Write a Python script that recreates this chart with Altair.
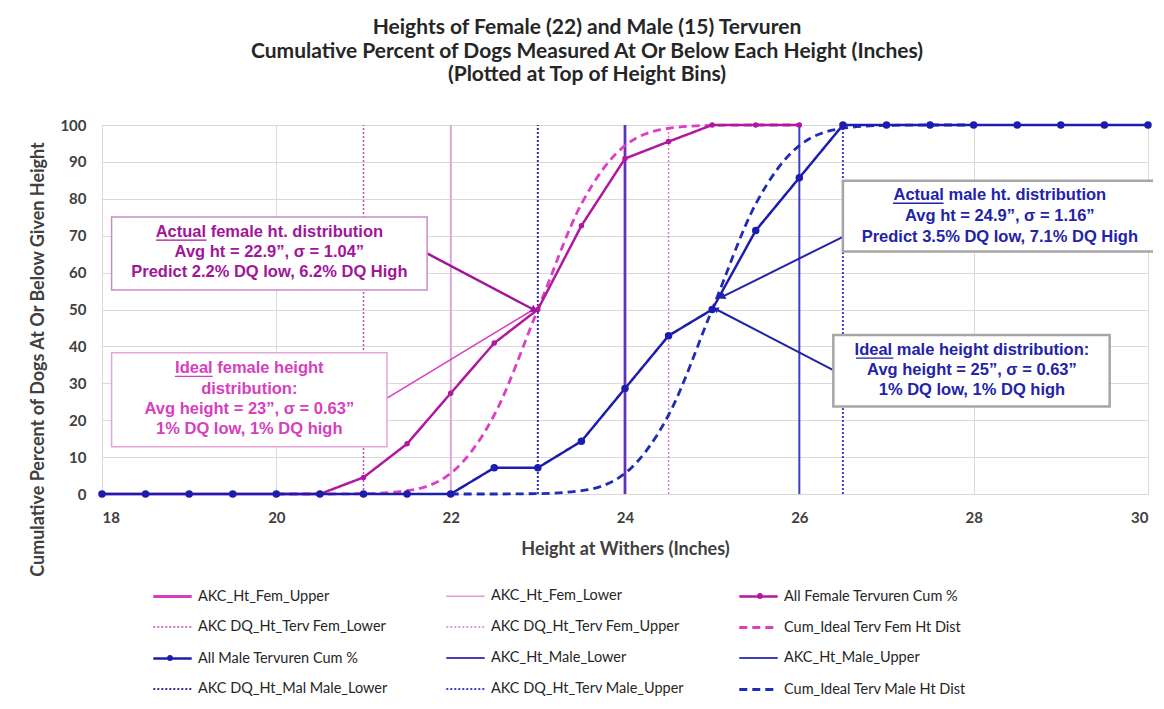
import altair as alt
import pandas as pd

FONT = "Lato"
AFONT = "Liberation Sans"

# Series styles (name -> colour, dash, width)
SERIES = [
    "AKC_Ht_Fem_Upper", "AKC_Ht_Fem_Lower", "All Female Tervuren Cum %",
    "AKC DQ_Ht_Terv Fem_Lower", "AKC DQ_Ht_Terv Fem_Upper", "Cum_Ideal Terv Fem Ht Dist",
    "All Male Tervuren Cum %", "AKC_Ht_Male_Lower", "AKC_Ht_Male_Upper",
    "AKC DQ_Ht_Mal Male_Lower", "AKC DQ_Ht_Terv Male_Upper", "Cum_Ideal Terv Male Ht Dist",
]
COLORS = ["#d43fbf", "#e39ad9", "#b0189f", "#c44bb6", "#e27ad0", "#dc3fc2",
          "#1c1cae", "#4a3db8", "#3f3fbf", "#3030a8", "#4040c8", "#1f2db5"]
DASHES = [[1, 0], [1, 0], [1, 0], [2, 2], [2, 2], [8, 5],
          [1, 0], [1, 0], [1, 0], [2, 2], [2, 2], [8, 5]]
WIDTHS = [3, 1.5, 2.5, 1.5, 1.5, 2.8, 2.5, 2, 2, 2, 2, 2.8]

# legend reading order (laid out column by column, 3 columns x 4 rows)
LEGEND_ORDER = [
    "AKC_Ht_Fem_Upper", "AKC DQ_Ht_Terv Fem_Lower", "All Male Tervuren Cum %", "AKC DQ_Ht_Mal Male_Lower",
    "AKC_Ht_Fem_Lower", "AKC DQ_Ht_Terv Fem_Upper", "AKC_Ht_Male_Lower", "AKC DQ_Ht_Terv Male_Upper",
    "All Female Tervuren Cum %", "Cum_Ideal Terv Fem Ht Dist", "AKC_Ht_Male_Upper", "Cum_Ideal Terv Male Ht Dist",
]

X_TICKS = [18, 20, 22, 24, 26, 28, 30]
Y_TICKS = [0, 10, 20, 30, 40, 50, 60, 70, 80, 90, 100]

# All Female Tervuren Cum %
fem_x = [18, 18.5, 19, 19.5, 20, 20.5, 21, 21.5, 22, 22.5, 23, 23.5, 24, 24.5, 25, 25.5, 26]
fem_cum = [0, 0, 0, 0, 0, 0, 4.5, 13.6, 27.3, 40.9, 50.0, 72.7, 90.9, 95.5, 100, 100, 100]

# All Male Tervuren Cum %
male_x = [18, 18.5, 19, 19.5, 20, 20.5, 21, 21.5, 22, 22.5, 23, 23.5, 24, 24.5, 25,
          25.5, 26, 26.5, 27, 27.5, 28, 28.5, 29, 29.5, 30]
male_cum = [0, 0, 0, 0, 0, 0, 0, 0, 0, 7.1, 7.1, 14.3, 28.6, 42.9, 50.0,
            71.4, 85.7, 100, 100, 100, 100, 100, 100, 100, 100]

# Cum_Ideal curves
fem_ideal_x = [20, 20.5, 21, 21.5, 22, 22.5, 23, 23.5, 24, 24.5, 25, 25.5, 26]
fem_ideal = [0, 0, 0.1, 0.9, 5.6, 21.4, 50.0, 78.6, 94.4, 99.1, 99.9, 100, 100]
male_ideal_x = [22, 22.5, 23, 23.5, 24, 24.5, 25, 25.5, 26, 26.5, 27, 27.5, 28]
male_ideal = [0, 0, 0.1, 0.9, 5.6, 21.4, 50.0, 78.6, 94.4, 99.1, 99.9, 100, 100]

# Reference (vertical) lines
ref_names = ["AKC_Ht_Fem_Upper", "AKC_Ht_Fem_Lower", "AKC DQ_Ht_Terv Fem_Lower",
             "AKC DQ_Ht_Terv Fem_Upper", "AKC_Ht_Male_Lower", "AKC_Ht_Male_Upper",
             "AKC DQ_Ht_Mal Male_Lower", "AKC DQ_Ht_Terv Male_Upper"]
ref_x = [24, 22, 21, 24.5, 24, 26, 23, 26.5]
ref_span = [0, 100]

# Annotation boxes (data units)
box_x1 = [18.11, 18.11, 26.5, 26.39]
box_x2 = [21.73, 21.27, 30.11, 29.56]
box_y1 = [75.1, 38.3, 84.9, 43.1]
box_y2 = [55.3, 12.8, 65.7, 23.7]
box_stroke = ["#c98cc3", "#e3a6dc", "#a6a6a6", "#a6a6a6"]
box_sw = [1.5, 1.5, 2.5, 2.5]

ann_lines = [
    ["Actual female ht. distribution", "Avg ht = 22.9”, σ = 1.04”",
     "Predict 2.2% DQ low, 6.2% DQ High"],
    ["Ideal female height", "distribution:", "Avg height = 23”, σ = 0.63”",
     "1% DQ low, 1% DQ high"],
    ["Actual male ht. distribution", "Avg ht = 24.9”, σ = 1.16”",
     "Predict 3.5% DQ low, 7.1% DQ High"],
    ["Ideal male height distribution:", "Avg height = 25”, σ = 0.63”",
     "1% DQ low, 1% DQ high"],
]
ann_x = [19.92, 19.69, 28.3, 27.98]
ann_y = [[71.0, 65.6, 60.2], [34.1, 28.5, 23.0, 17.6], [81.0, 75.3, 69.6], [39.0, 33.6, 28.2]]
ann_color = ["#a0169a", "#d63fbf", "#2323a8", "#2323a8"]

# underlines under "Actual" / "Ideal"
ul_x1 = [18.62, 18.835, 27.074, 26.65]
ul_x2 = [19.20, 19.27, 27.654, 27.08]
ul_y = [68.8, 31.9, 78.8, 36.8]

arr_x1 = [21.73, 21.27, 26.5, 26.39]
arr_y1 = [65.2, 26.0, 69.7, 33.6]
arr_x2 = [22.95, 22.95, 25.12, 25.05]
arr_y2 = [50.0, 50.0, 53.5, 50.0]
arr_color = ["#a0169a", "#d63fbf", "#2323a8", "#2323a8"]
arr_w = [2.5, 1.5, 2, 2]
head_angle = [118, 0, 243, 297]
head_size = [70, 0, 60, 40]

# ---------------- tables -----------------
style = {n: (c, d, w) for n, c, d, w in zip(SERIES, COLORS, DASHES, WIDTHS)}
DOM = LEGEND_ORDER
DOM_COLORS = [style[n][0] for n in DOM]
DOM_DASHES = [style[n][1] for n in DOM]
DOM_WIDTHS = [style[n][2] for n in DOM]

rows = []
for n, xv in zip(ref_names, ref_x):
    for yv in ref_span:
        rows.append({"series": n, "x": xv, "y": yv})
df_ref = pd.DataFrame(rows)
df_ideal = pd.DataFrame(
    [{"series": "Cum_Ideal Terv Fem Ht Dist", "x": a, "y": b} for a, b in zip(fem_ideal_x, fem_ideal)]
    + [{"series": "Cum_Ideal Terv Male Ht Dist", "x": a, "y": b} for a, b in zip(male_ideal_x, male_ideal)]
)
df_fem = pd.DataFrame({"series": "All Female Tervuren Cum %", "x": fem_x, "y": fem_cum})
df_male = pd.DataFrame({"series": "All Male Tervuren Cum %", "x": male_x, "y": male_cum})
df_cum = pd.concat([df_fem, df_male])

df_box = pd.DataFrame({"x": box_x1, "x2": box_x2, "y": box_y1, "y2": box_y2,
                       "sc": box_stroke, "sw": box_sw})
trows = []
for lines, xv, ys, c in zip(ann_lines, ann_x, ann_y, ann_color):
    for t, yv in zip(lines, ys):
        trows.append({"x": xv, "y": yv, "t": t, "c": c})
df_text = pd.DataFrame(trows)
df_arr = pd.DataFrame({"x": arr_x1, "y": arr_y1, "x2": arr_x2, "y2": arr_y2,
                       "c": arr_color, "w": arr_w, "a": head_angle, "s": head_size})
df_ul = pd.DataFrame({"x": ul_x1, "x2": ul_x2, "y": ul_y, "c": ann_color})

# ---------------- scales / axes -----------------
xscale = alt.Scale(domain=[18, 30], nice=False, zero=False)
yscale = alt.Scale(domain=[0, 100], nice=False)
xaxis = alt.Axis(title="Height at Withers (Inches)", values=X_TICKS, grid=True,
                 gridColor="#d9d9d9", domain=False, ticks=False, labelPadding=16,
                 labelFont=FONT, labelFontSize=15, labelFontWeight="bold", labelColor="#404040",
                 titleFont=FONT, titleFontSize=18, titleFontWeight="bold", titleColor="#404040",
                 titlePadding=15)
yaxis = alt.Axis(title="Cumulative Percent of Dogs  At Or Below Given Height", values=Y_TICKS,
                 grid=True, gridColor="#d9d9d9", domain=False, ticks=False, labelPadding=16,
                 labelFont=FONT, labelFontSize=15, labelFontWeight="bold", labelColor="#404040",
                 titleFont=FONT, titleFontSize=18, titleFontWeight="bold", titleColor="#404040",
                 titleAngle=270, titleX=-64, titleY=234, titleAlign="center",
                 titleBaseline="middle")

X = alt.X("x:Q", scale=xscale, axis=xaxis)
Y = alt.Y("y:Q", scale=yscale, axis=yaxis)

BASE = "M-1.6,0H1.6"
lg = alt.Legend(title=None, orient="none", legendX=57, legendY=458, columns=3,
                symbolType=BASE, symbolSize=576, labelFont=FONT, labelFontSize=14.5,
                labelColor="#262626", rowPadding=11, columnPadding=49, gridAlign="all",
                labelOffset=12, labelLimit=320)


def dot_legend(lx, ly):
    return alt.Legend(title=None, orient="none", legendX=lx, legendY=ly, padding=0,
                      symbolType="circle", symbolSize=34, symbolStrokeWidth=0,
                      symbolOpacity=1, labelOpacity=0, labelFontSize=6, labelLimit=5)


def enc():
    return dict(
        x=X, y=Y,
        color=alt.Color("series:N", scale=alt.Scale(domain=DOM, range=DOM_COLORS), legend=lg),
        strokeDash=alt.StrokeDash("series:N", scale=alt.Scale(domain=DOM, range=DOM_DASHES), legend=lg),
        strokeWidth=alt.StrokeWidth("series:N", scale=alt.Scale(type="ordinal", domain=DOM, range=DOM_WIDTHS), legend=lg),
    )


ref = alt.Chart(df_ref).mark_line().encode(**enc())
ideal = alt.Chart(df_ideal).mark_line(interpolate="monotone").encode(**enc())
cum = alt.Chart(df_cum).mark_line().encode(**enc())

# markers (their own small legends put the dot on the legend lines)
pf = alt.Chart(df_fem).mark_circle(size=30, opacity=1).encode(
    x=X, y=Y,
    fill=alt.Fill("series:N", scale=alt.Scale(domain=["All Female Tervuren Cum %"], range=["#b0189f"]),
                  legend=dot_legend(655, 468)),
)
pm = alt.Chart(df_male).mark_circle(size=30, opacity=1, color="#1c1cae").encode(
    x=X, y=Y,
    stroke=alt.Stroke("series:N", scale=alt.Scale(domain=["All Male Tervuren Cum %"], range=["#1c1cae"]),
                      legend=alt.Legend(title=None, orient="none", legendX=65, legendY=530, padding=0,
                                        symbolType="circle", symbolSize=34, symbolStrokeWidth=0,
                                        symbolFillColor="#1c1cae", symbolOpacity=1,
                                        labelOpacity=0, labelFontSize=6, labelLimit=5)),
)

boxes = alt.Chart(df_box).mark_rect(fill="white").encode(
    x=X, x2="x2:Q", y=Y, y2="y2:Q",
    stroke=alt.Stroke("sc:N", scale=None),
    strokeWidth=alt.StrokeWidth("sw:Q", scale=None),
)
arrows = alt.Chart(df_arr).mark_rule().encode(
    x=X, x2="x2:Q", y=Y, y2="y2:Q",
    color=alt.Color("c:N", scale=None),
    strokeWidth=alt.StrokeWidth("w:Q", scale=None),
)
heads = alt.Chart(df_arr).mark_point(shape="triangle", filled=True, opacity=1).encode(
    x=alt.X("x2:Q", scale=xscale, axis=xaxis),
    y=alt.Y("y2:Q", scale=yscale, axis=yaxis),
    color=alt.Color("c:N", scale=None),
    angle=alt.Angle("a:Q", scale=None),
    size=alt.Size("s:Q", scale=None),
)
texts = alt.Chart(df_text).mark_text(font=AFONT, fontWeight="bold", fontSize=16.5,
                                     align="center", baseline="middle").encode(
    x=X, y=Y, text="t:N", color=alt.Color("c:N", scale=None),
)
ulines = alt.Chart(df_ul).mark_rule(strokeWidth=1.3).encode(
    x=X, x2="x2:Q", y=Y, color=alt.Color("c:N", scale=None),
)

chart = alt.layer(ref, ideal, cum, pf, pm, arrows, heads, boxes, texts, ulines).properties(
    width=1046, height=369,
    title=alt.TitleParams(
        text=["Heights of Female (22) and Male (15) Tervuren",
              "Cumulative Percent of Dogs Measured At Or Below Each Height (Inches)",
              "(Plotted at Top of Height Bins)"],
        font=FONT, fontSize=21, fontWeight="bold", color="#262626",
        anchor="middle", lineHeight=23.5, offset=33, dx=-38),
    autosize=alt.AutoSizeParams(type="none"),
    padding={"left": 94, "top": 117, "right": 5, "bottom": 202},
).configure_view(stroke=None).configure(background="white")

chart.save("out.html", embed_options={"renderer": "svg", "actions": False})
